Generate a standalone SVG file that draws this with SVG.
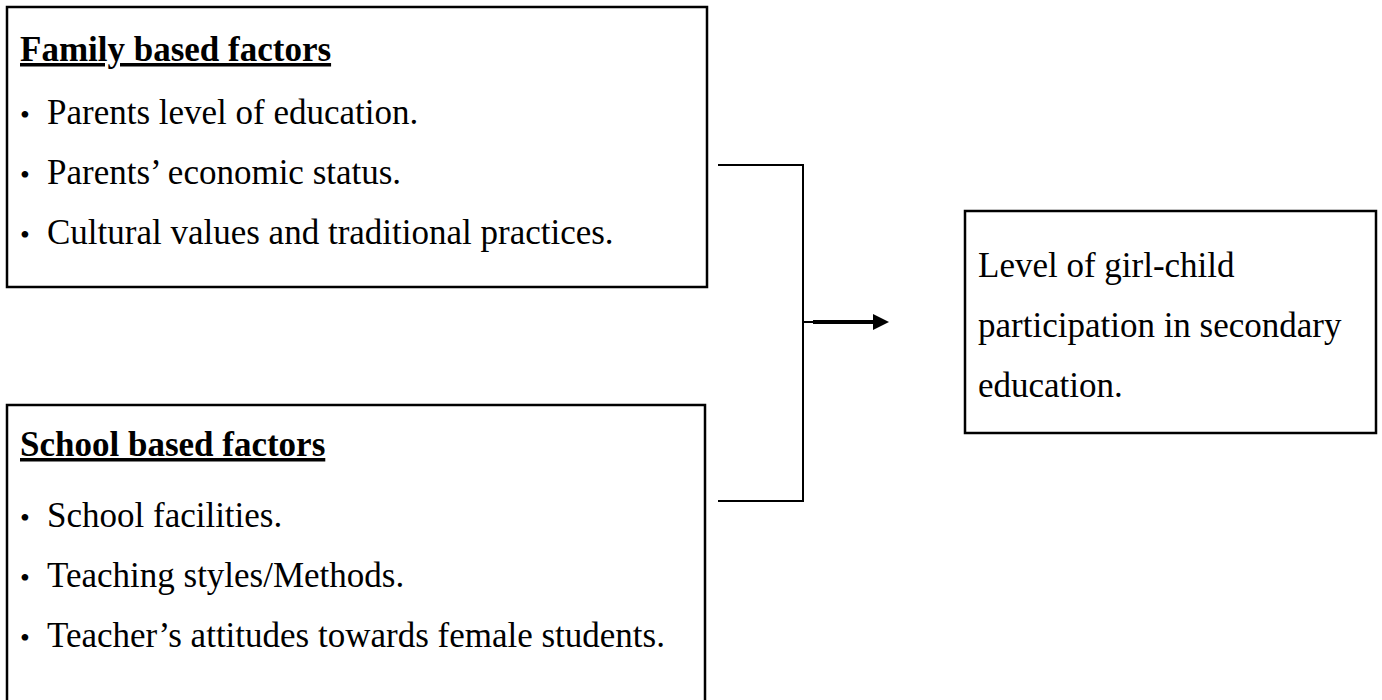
<svg xmlns="http://www.w3.org/2000/svg" width="1382" height="700" viewBox="0 0 1382 700">
<style>
.box{fill:#fff;stroke:#000;stroke-width:2.5}
.t{font-family:"Liberation Serif","Times New Roman",serif;font-size:35px;fill:#000}
.h{font-family:"Liberation Serif","Times New Roman",serif;font-size:35px;font-weight:bold;fill:#000;text-decoration:underline}
.b{font-family:"Liberation Serif","Times New Roman",serif;font-size:28px;fill:#000}
.c{fill:none;stroke:#000;stroke-width:2}
</style>
<defs>
<marker id="ah" markerWidth="4" markerHeight="4" refX="0" refY="2" orient="auto" markerUnits="strokeWidth">
<path d="M0,0 L4,2 L0,4 Z" fill="#000"/>
</marker>
</defs>
<rect width="1382" height="700" fill="#fff"/>
<g id="family">
<rect class="box" x="7" y="7" width="700" height="280"/>
<text class="h" x="20" y="61">Family based factors</text>
<text class="b" x="20" y="124">•</text><text class="t" x="47" y="124">Parents level of education.</text>
<text class="b" x="20" y="184">•</text><text class="t" x="47" y="184">Parents’ economic status.</text>
<text class="b" x="20" y="244">•</text><text class="t" x="47" y="244">Cultural values and traditional practices.</text>
</g>
<g id="school">
<rect class="box" x="7" y="405" width="698" height="310"/>
<text class="h" x="20" y="456">School based factors</text>
<text class="b" x="20" y="527">•</text><text class="t" x="47" y="527">School facilities.</text>
<text class="b" x="20" y="587">•</text><text class="t" x="47" y="587">Teaching styles/Methods.</text>
<text class="b" x="20" y="647">•</text><text class="t" x="47" y="647">Teacher’s attitudes towards female students.</text>
</g>
<g id="outcome">
<rect class="box" x="965" y="211" width="411" height="222"/>
<text class="t" x="978" y="277">Level of girl-child</text>
<text class="t" x="978" y="337">participation in secondary</text>
<text class="t" x="978" y="397">education.</text>
</g>
<g id="connectors">
<polyline class="c" points="718,165 803,165 803,501 718,501"/>
<line x1="803" y1="322" x2="814" y2="322" stroke="#000" stroke-width="2"/>
<line x1="813" y1="322" x2="873" y2="322" stroke="#000" stroke-width="4" marker-end="url(#ah)"/>
</g>
</svg>
